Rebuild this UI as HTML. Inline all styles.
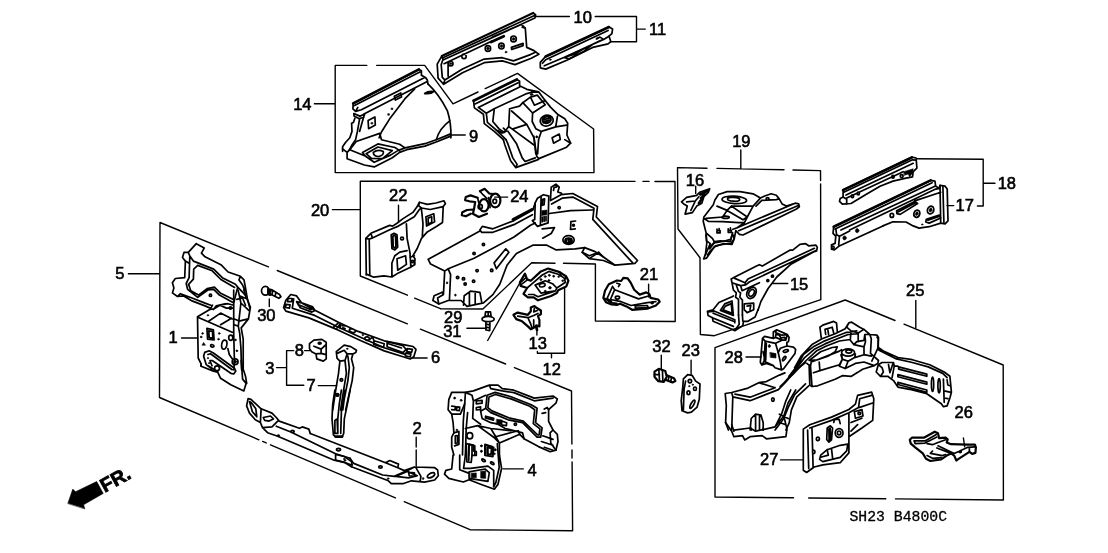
<!DOCTYPE html>
<html><head><meta charset="utf-8"><title>SH23 B4800C</title>
<style>
html,body{margin:0;padding:0;background:#fff}
svg{display:block;will-change:transform}
path{fill:none;stroke:#000;stroke-width:1.7;stroke-linecap:round;stroke-linejoin:round}
path.t{stroke-width:1.4}
path.b{stroke-width:2.7}
path.h{stroke-width:2.2}
path.f{fill:#000;stroke-width:0.6}
path.w{fill:#fff}
text{font-family:"Liberation Sans",sans-serif;font-size:16.5px;fill:#000;stroke:#000;stroke-width:0.6}
text.fr{font-weight:bold;font-size:19.5px;stroke-width:0.8}
text.m{font-family:"Liberation Mono",monospace;font-size:14px;stroke-width:0.3}
</style></head><body>
<svg width="1108" height="553" viewBox="0 0 1108 553">
<!-- 00_frames -->
<g><path class="t" d="M335.2 65.4L366.8 65.4M376.7 65.4L424.7 65.4M424.7 65.4L453 103.8M453 103.8L478 92M485.2 88.6L517.5 73.4M517.5 73.4L593.6 129L594 172.6L335.2 172.6L335.2 65.4M160 222.5L268.4 266.9M277.2 270.5L407.4 323.8M420.4 329.1L505.6 364M514.4 367.6L571.5 391M571.5 391L571.9 444M572 450L572 458M572.1 462L572.6 530.8M572.6 530.8L470 529.7M470 529.7L404.2 501.7M395.4 497.9L270.5 444.8M266.2 442.9L262.6 441.4M258.9 439.8L159.5 397.5M159.5 397.5L160 222.5M360.3 276L360.3 181.2L635 181.4M643 181.4L649 181.4M655 181.5L675 181.5L675.2 321.5L595.4 321L595.4 264L563.5 263.3M555 263.2L531.7 262.8L482.9 309L440.4 308.7M440.4 308.7L414.6 298.2M407.4 295.2L360.3 276M487.7 340.5L524.8 274M677.5 167.6L707 168.2M717 168.4L784 169.8M793 170L820.5 170.6M820.5 170.6L820.6 180.5M820.6 184L820.8 299.7L714.4 335.7L700.4 334.5L700 257.7L678 229L677.5 167.6M715 497L715 347.6L845.2 300M845.2 300L895 320.5M904 324.2L1003.2 365M1003.2 365L1003.4 500M1003.4 500L895.5 498.9M885.8 498.8L808.7 498M793.5 497.8L715 497M314.4 103.8L335.2 103.8M450.4 135L465.2 135M535.2 16.5L569.4 16.5M595.2 16.5L636.5 16.5L636.5 41.8L610.4 41.8M636.5 29.1L645.3 29.1M128.4 273.7L160 273.7M332.4 209.6L360.3 209.6M740.8 149.9L740.8 168.5M695.7 186.3L695.7 193.4M648.6 284.3L648.6 297M772.7 283.5L787.8 283.5M661.3 355.2L661.3 369M691.1 360.3L691.1 374.2M746 357L761.3 357M916.6 158.7L983.2 159.2L983.2 206L977.4 206M983.2 183.3L995 183.3M947 205.6L953.8 205.6M915.8 300.5L915.8 327.8M963.4 438L964.7 446.8M181.5 338L197.5 338M269.3 299L269.3 306.5M293.7 350.6L286.6 350.6L286.6 385.3L303.8 385.3M276.5 367.6L286.6 367.6M304.6 350.6L310 350.6M318.2 385.6L336.7 385.6M416.2 437.2L416.2 447M416.2 450L416.2 466.3M503 468.9L523.3 468.9M398.5 205.3L398.5 221.5M494.7 197.1L507.7 197.1M466.9 328.2L485.9 328.2M536.9 326L536.9 335M564.6 288L564.6 353.2L537.4 353.2L537.4 351.4M551.5 353.2L551.5 357.7M412.7 358L427.1 358"/></g>
<!-- 01a -->
<g><path d="M197.5 316.8L209.8 309.5L214.1 308.8L219.9 305.2L227.9 303.7L233.7 305.2M197.5 316.8L198.2 358L201.1 363.8L201.1 366.2M198.4 317.5L232.2 332.2M208.3 321.5L220.6 313.1L232.2 318.9M220.6 324.7L231.5 318.2M213.4 309.5L216.3 305.9L225 303.7M219.9 305.2L226.4 308.1L233.7 308.1M233.7 290L233.7 333.4L234.4 359.4L233.9 370M238 290L239.4 295.8L240.9 303L238.3 326.2L239.7 333.4L240.9 347.9L241.6 370M243.8 290L247 298.7L250.4 307.4L248.4 318.9L241.2 327.9L243.2 339.2L243.2 370M239.4 295.8L246.7 298.7M240.9 303L248.8 310.3M234.4 318.9L239.2 321.1M238.3 326.2L234.4 324.7M239.2 321.1L248.1 318.9M206.9 328.3L213.4 329.8L214.1 339.9L207.6 339.2ZM208.8 330.8L212.5 331.5L212.8 338.2L209.2 337.5Z"/><path class="f" d="M203.4 333.4C203.4 333.9 203 334.3 202.5 334.3C202.1 334.3 201.7 333.9 201.7 333.4C201.7 332.9 202.1 332.5 202.5 332.5C203 332.5 203.4 332.9 203.4 333.4Z"/><path class="f" d="M202 337C202 337.5 201.6 337.9 201.1 337.9C200.6 337.9 200.2 337.5 200.2 337C200.2 336.5 200.6 336.1 201.1 336.1C201.6 336.1 202 336.5 202 337Z"/><path class="f" d="M220.1 333.4C220.1 333.9 219.7 334.3 219.2 334.3C218.7 334.3 218.3 333.9 218.3 333.4C218.3 332.9 218.7 332.5 219.2 332.5C219.7 332.5 220.1 332.9 220.1 333.4Z"/><path class="f" d="M219.3 339.2C219.3 339.7 218.9 340.1 218.5 340.1C218 340.1 217.6 339.7 217.6 339.2C217.6 338.7 218 338.3 218.5 338.3C218.9 338.3 219.3 338.7 219.3 339.2Z"/><path class="f" d="M202.1 345L203.6 342.4L205.3 345Z"/><path d="M213.9 346.4C213.7 347 212.7 347.3 211.9 346.9C210.9 346.6 210.4 345.8 210.6 345.2C210.8 344.6 211.7 344.4 212.6 344.8C213.5 345.1 214.1 345.8 213.9 346.4ZM226.8 345.1C226.4 347.6 224.9 349.5 223.4 349.2C222 349 221.2 346.8 221.7 344.2C222.1 341.7 223.6 339.9 225.1 340.1C226.5 340.4 227.3 342.6 226.8 345.1ZM232.8 337.7C232.8 339.2 231.9 340.3 230.8 340.3C229.6 340.3 228.7 339.2 228.7 337.7C228.7 336.3 229.6 335.1 230.8 335.1C231.9 335.1 232.8 336.3 232.8 337.7Z"/><path class="f" d="M236.3 339.9C236.3 340.4 235.9 340.8 235.4 340.8C234.9 340.8 234.5 340.4 234.5 339.9C234.5 339.4 234.9 339 235.4 339C235.9 339 236.3 339.4 236.3 339.9Z"/><path class="f" d="M237.7 350.8C237.7 351.2 237.3 351.6 236.8 351.6C236.4 351.6 236 351.2 236 350.8C236 350.3 236.4 349.9 236.8 349.9C237.3 349.9 237.7 350.3 237.7 350.8Z"/><path class="f" d="M208.8 315.3C208.8 315.7 208.4 316 207.9 316C207.4 316 207 315.7 207 315.3C207 314.9 207.4 314.6 207.9 314.6C208.4 314.6 208.8 314.9 208.8 315.3Z"/><path d="M231.6 308.1C231.6 308.7 231.1 309.2 230.5 309.2C229.8 309.2 229.3 308.7 229.3 308.1C229.3 307.4 229.8 306.9 230.5 306.9C231.1 306.9 231.6 307.4 231.6 308.1Z"/></g>
<!-- 01b -->
<g><path d="M201.1 363.9L201.1 366.3L213.4 371.1L217.7 372.1L220.6 378.3L230.8 384.8L243.8 390.9L246.1 383.4L242.6 379.1L241.2 360.3M243.5 370.1L245.5 376.2L246.7 383.4M203.6 356.2L204.7 352.4L209.1 350.8L213.4 353L234.4 368.2L235.8 371.1L233.7 374L230.8 373.3L212.2 360.5L209.9 360.5L212 365.8M203.6 356.2L206.2 364.6L212 368.9M207.9 354.5L210.5 353.7L232.2 369.7M219.5 368.2C219.5 369.6 218.4 370.7 217 370.7C215.7 370.7 214.6 369.6 214.6 368.2C214.6 366.8 215.7 365.8 217 365.8C218.4 365.8 219.5 366.8 219.5 368.2ZM238 361.7C238 363.3 236.7 364.6 235.1 364.6C233.5 364.6 232.2 363.3 232.2 361.7C232.2 360.1 233.5 358.8 235.1 358.8C236.7 358.8 238 360.1 238 361.7Z"/><path class="f" d="M236.5 361.7C236.5 362.5 235.9 363.1 235.1 363.1C234.3 363.1 233.7 362.5 233.7 361.7C233.7 360.9 234.3 360.3 235.1 360.3C235.9 360.3 236.5 360.9 236.5 361.7Z"/><path class="f" d="M208.6 358.1C208.6 358.5 208.3 358.8 207.9 358.8C207.5 358.8 207.2 358.5 207.2 358.1C207.2 357.7 207.5 357.4 207.9 357.4C208.3 357.4 208.6 357.7 208.6 358.1Z"/><path class="f" d="M209.8 363.1C209.8 363.6 209.5 363.9 209.1 363.9C208.7 363.9 208.3 363.6 208.3 363.1C208.3 362.7 208.7 362.4 209.1 362.4C209.5 362.4 209.8 362.7 209.8 363.1Z"/><path d="M208.3 366L213.4 368.9L214.8 371.1M227.9 348.7L229.3 354.5L232.2 358.8"/><path class="f" d="M237.6 350.8C237.6 351.3 237.2 351.6 236.8 351.6C236.4 351.6 236.1 351.3 236.1 350.8C236.1 350.4 236.4 350.1 236.8 350.1C237.2 350.1 237.6 350.4 237.6 350.8Z"/></g>
<!-- 02b -->
<g><path d="M310.3 433.5L385.5 462.7L389.8 460.5L398.5 464.1L397.8 467.7L404.3 470.6L414.4 467L434.7 467.7L437.6 469.9L438.3 475.7L434.7 480L424.5 482.2L411.5 480.8L402.8 483.7L391.3 483.7L388.4 480.8L351.5 466.7M350 458.3L353.7 463.4L382.6 475L394.2 476.4L405.7 471.4L414.4 467M385.5 462.7L397.8 467.7M395.6 476.4L407.2 471.4L417.3 475.7L408.6 477.9ZM408.6 472.4L414.4 472.9L415.1 476.4L409.3 475.8ZM415.9 467.7L420.9 476.4L420.2 481.5M434.7 473.6C435.2 474.6 433.9 476.2 431.9 477.1C429.9 478 427.9 478 427.4 477C426.9 476 428.2 474.4 430.2 473.4C432.2 472.5 434.2 472.5 434.7 473.6Z"/><path class="f" d="M423.8 478.6C423.8 479.2 423.5 479.7 423.1 479.7C422.7 479.7 422.4 479.2 422.4 478.6C422.4 478 422.7 477.4 423.1 477.4C423.5 477.4 423.8 478 423.8 478.6Z"/><path d="M382.2 467C382.2 467.7 381.4 468.2 380.4 468.2C379.5 468.2 378.7 467.7 378.7 467C378.7 466.4 379.5 465.9 380.4 465.9C381.4 465.9 382.2 466.4 382.2 467Z"/><path class="f" d="M389 478.6C389 479.1 388.6 479.5 388.1 479.5C387.6 479.5 387.2 479.1 387.2 478.6C387.2 478.1 387.6 477.7 388.1 477.7C388.6 477.7 389 478.1 389 478.6Z"/><path class="f" d="M345.1 459.1C345.1 459.5 344.7 459.9 344.2 459.9C343.8 459.9 343.4 459.5 343.4 459.1C343.4 458.6 343.8 458.2 344.2 458.2C344.7 458.2 345.1 458.6 345.1 459.1Z"/></g>
<!-- 04a -->
<g><path d="M451.7 392.4L465.4 392.4L473.4 390.9L489.3 385.1L498 385.1L502.3 388.7L513.9 390.2L534.2 398.1L553 396L557.3 398.9L555.9 403.2L548.6 409.7L548.6 421.3L553 430L557.3 434.3L558 441.5L555.9 450.2L550.1 451.7L538.5 446.6L524 438.7L519.7 434.3L499.4 443L499.4 455M451.7 392.4L448.8 399.6L448.1 409.7L451.7 414.1L453.1 422.7L453.9 432.9L451.7 437.2L451.7 447.3L453.9 455M487.1 395.3L495.1 392.4L511 396.7L531.3 404.7L537.1 408.3L535.6 422.7L542.1 427.8L540.7 437.2L537.1 437.2L522.6 422.7L508.1 419.8L490.8 412.6L485.7 408.3ZM489 397L495.4 394.5L511 398.9L529.8 406.2L534.7 409.7L533.3 423.6L539.9 428.8L539.1 435L537.8 435L523.3 421L508.8 417.8L491.9 410.9L487.9 407.7ZM489.3 385.1L490.8 388.7L502.3 390.9L513.9 392.6L534.2 400.8L553 398.1M465.4 393.1L464.7 403.9L460.4 414.1L451.7 414.1"/><path class="f" d="M455.6 398.1C455.6 398.7 455.2 399.2 454.6 399.2C454 399.2 453.6 398.7 453.6 398.1C453.6 397.6 454 397.1 454.6 397.1C455.2 397.1 455.6 397.6 455.6 398.1Z"/><path class="f" d="M462.1 400.3C462.1 400.9 461.7 401.3 461.1 401.3C460.5 401.3 460.1 400.9 460.1 400.3C460.1 399.8 460.5 399.3 461.1 399.3C461.7 399.3 462.1 399.8 462.1 400.3Z"/><path d="M451.7 406.1L455.3 406.5L455 410L451.7 409.7M456.8 406.8L459.7 407.1L459.4 410.6L456.6 410.3ZM465.4 392.4L472 395.3L473.4 401L472.7 418.4L480.6 424.2M464.7 403.9L463.3 421.3L462.5 455M467.6 412.6L466.2 428.5L465.4 455M473.4 401L485.7 395.3M476.3 401L482.1 400.3L482.1 403.2L476.3 403.9ZM476.3 407.5L480.6 406.8L480.6 409.4L476.3 410ZM485.7 408.3L480.6 411.2L482.1 418.4L490.8 422.7L498 424.2L505.2 428.5L522.6 432.9L524 438.7"/><path class="f" d="M496.8 419.3L502.3 420.1L502 425.1L496.5 424.2Z"/><path d="M485.7 416.2L493.7 418.4L493.4 420.1L485.4 418ZM502.3 421.3L506.7 422.7L506.4 425.6L502.3 425.1M516.5 424.2C516.5 424.8 516 425.3 515.4 425.3C514.7 425.3 514.2 424.8 514.2 424.2C514.2 423.5 514.7 423 515.4 423C516 423 516.5 423.5 516.5 424.2ZM542.8 435.8L553 439.4M541.4 441.5L553 445.2M544.3 447.3L553 450.2M544.3 409L547.2 407.5L548.6 409.7M542.1 413.3L545.7 412.6M553 430L550.1 432.9L550.8 443L555.9 450.2M465.4 428.5L477.7 425.6L490.8 428.5L499.4 443M477.7 425.6L493.7 437.2L499.4 443M493.7 437.2L518.2 430.7L519.7 434.3M490.8 428.5L511 430.7M472.7 435.8C472.7 437.5 471.4 438.9 469.8 438.9C468.2 438.9 466.9 437.5 466.9 435.8C466.9 434 468.2 432.6 469.8 432.6C471.4 432.6 472.7 434 472.7 435.8ZM469.1 444.4L474.8 445.9L474.8 455M469.1 444.4L468.8 455M472 446.6L472 455M485 444.4L492.2 446.6L492.2 455M485 444.4L485 455M487.9 447.3L487.9 455"/><path class="f" d="M482.2 445.9C482.2 446.4 481.8 446.8 481.4 446.8C480.9 446.8 480.5 446.4 480.5 445.9C480.5 445.4 480.9 445 481.4 445C481.8 445 482.2 445.4 482.2 445.9Z"/><path class="f" d="M482.2 450.9C482.2 451.4 481.8 451.8 481.4 451.8C480.9 451.8 480.5 451.4 480.5 450.9C480.5 450.5 480.9 450.1 481.4 450.1C481.8 450.1 482.2 450.5 482.2 450.9Z"/><path class="f" d="M496 450.2C496 450.7 495.6 451.1 495.1 451.1C494.6 451.1 494.2 450.7 494.2 450.2C494.2 449.7 494.6 449.4 495.1 449.4C495.6 449.4 496 449.7 496 450.2Z"/><path d="M453.9 432.9L458.9 431.4L458.9 444.4L454.6 445.9"/><path class="f" d="M457.6 430C457.6 430.5 457.2 430.8 456.8 430.8C456.3 430.8 455.9 430.5 455.9 430C455.9 429.5 456.3 429.1 456.8 429.1C457.2 429.1 457.6 429.5 457.6 430Z"/><path d="M455.3 435.8L457.5 435.5L457.5 443L455.3 443.3Z"/></g>
<!-- 04b -->
<g><path d="M499.4 455L501.6 468.3L498 484.2L494.4 489.2L480.6 484.2L469.1 479.8L463.3 482L448.8 478.4L444.5 474.1L445.9 470.4L451.7 469L453.1 455M497.3 443.7L499.2 467.5L495.8 482.7L493.7 486.8M459.7 455L459.7 469.7L467.9 472.9M465.4 455L463.6 468.3L470.5 468.3L487.9 466.1L493.7 470.4L493.7 486.8M469.1 471.9L485 469L489.3 472.6L487.9 481.3L469.1 478.4Z"/><path class="f" d="M471.2 473.3L476.3 472.9L476.3 477.7L471.2 477.7Z"/><path class="f" d="M480.9 471.2L485.7 470.9L485.7 478.4L480.9 478.1Z"/><path d="M485 445.1L493.7 447.3L492.9 456.7L485 455.3ZM487.1 447.3L491.5 448.3L491 454.5L487.1 453.8Z"/><path class="f" d="M482.2 445.8C482.2 446.3 481.8 446.7 481.4 446.7C480.9 446.7 480.5 446.3 480.5 445.8C480.5 445.4 480.9 445 481.4 445C481.8 445 482.2 445.4 482.2 445.8Z"/><path class="f" d="M482.2 451.6C482.2 452.1 481.8 452.5 481.4 452.5C480.9 452.5 480.5 452.1 480.5 451.6C480.5 451.2 480.9 450.8 481.4 450.8C481.8 450.8 482.2 451.2 482.2 451.6Z"/><path class="f" d="M496 449.5C496 449.9 495.6 450.3 495.1 450.3C494.6 450.3 494.2 449.9 494.2 449.5C494.2 449 494.6 448.6 495.1 448.6C495.6 448.6 496 449 496 449.5Z"/><path class="f" d="M495.2 453.8C495.2 454.3 494.9 454.7 494.4 454.7C493.9 454.7 493.5 454.3 493.5 453.8C493.5 453.3 493.9 452.9 494.4 452.9C494.9 452.9 495.2 453.3 495.2 453.8Z"/><path d="M485.3 461.3C485 461.8 484 461.7 483 461.2C482.1 460.6 481.5 459.8 481.8 459.3C482.1 458.8 483.1 458.9 484 459.4C485 460 485.6 460.9 485.3 461.3ZM494 464.2C493.7 464.7 492.7 464.6 491.7 464.1C490.7 463.5 490.2 462.7 490.5 462.2C490.7 461.7 491.7 461.8 492.7 462.3C493.7 462.9 494.2 463.7 494 464.2ZM466.2 443.7L473.4 445.1L473.4 450.9L476.3 451.6L476.3 455.3L472 455.3L471.2 462.5L466.9 461.8ZM468.8 445.8L468.8 460.3"/></g>
<!-- 05a -->
<g><path d="M196.3 243.7L204.2 248.1L201.4 253.1L205 256.8L220.9 264.7L228.1 272L240.4 276.3L244 279.9L245.5 287.9L247.2 298L249.8 308.1M196.3 243.7L188.3 252.4L184 252.4L182.5 257.5L185.4 261.1L184.7 277.7L175.3 278.5L172.4 282.8L173.9 287.9L172.4 292.9L177.5 296.5L183.3 295.8L192 300.9L205 305.9L210.8 308.4L212.5 305.2M189.8 256L193.4 261.1L213.7 269.1L222.3 277.7L235.4 284.2L237.7 287.1L233.9 302.3M189.8 256L189.1 277.7L186.2 283.5L187.6 289.3L197.7 297.3L207.9 290L213.7 289.3L219.4 295.1L232.5 302.3M197.7 265.4L212.2 270.8L220.9 279.5L234.6 287.4M197.7 265.4L193.7 269.1L193.4 279.2L188.6 284.4L190.8 290.8L198.5 295.1L207.1 288.6L214.4 287.1L220.2 292.9L233.9 299.7M188.3 252.4L189.8 256M185.4 261.1L189.1 263.3M177.5 296.5L180.4 293.7L192 298L205 303.1L210.8 305.2M211.6 295.4C211.6 296 211.1 296.5 210.5 296.5C209.8 296.5 209.3 296 209.3 295.4C209.3 294.8 209.8 294.2 210.5 294.2C211.1 294.2 211.6 294.8 211.6 295.4ZM240.4 276.3L239 279.9L242.6 285L244.8 290.8M237.7 287.1L244 293.7L247.2 298M236.8 299.4L242.6 298L245.5 305.2M269.3 290.8C269.3 293.2 267.6 295.1 265.4 295.1C263.3 295.1 261.5 293.2 261.5 290.8C261.5 288.4 263.3 286.4 265.4 286.4C267.6 286.4 269.3 288.4 269.3 290.8ZM272.4 292.2C272.4 293.8 271.3 295.1 270.1 295.1C268.8 295.1 267.8 293.8 267.8 292.2C267.8 290.6 268.8 289.3 270.1 289.3C271.3 289.3 272.4 290.6 272.4 292.2ZM272.2 290L279.5 294.4L280.9 296.8L278.8 298.3L272.2 295.1M267.9 287.9L267.9 293.7M270.1 289.3L270.1 295.1M275.9 292.2L275.1 296.5"/></g>
<!-- 06 -->
<g><path d="M290.8 294.5L296.6 295.9L301.7 303.1L315.4 310.4L337.9 322L358.1 331.4L384.2 340.8L405.9 345.1L413.1 346.5L416 349.4L413.8 356.7L410.2 359L403 356.7L384.2 350.9L361 340.8L337.9 329.9L308.9 317.9L285.8 311.1L283.6 307.5L285.8 300.3ZM293.7 298.8L292.3 308.2L314.7 315.4L337.9 327L361 337.6L384.2 347.7L404.4 354.1M296.6 301.7L300.3 307.8L311.8 312.1L315 310.4L312.7 306.9L302.4 303.1ZM298.1 304.6L301.7 306L311.1 309.7M288 298.5L292.3 298.5L291.6 301.7L287.5 301.7ZM286.1 304.3L290.1 304.9L289.4 308.2L285.5 307.5ZM333.8 327L337.9 323.4M337.1 327.7L340.8 323.4L340 328.5M342.2 325.6L345.8 326M342.9 327.7L345.1 328.5M355.4 331.5C355.2 332.4 353.6 332.8 351.9 332.3C350.2 331.8 349 330.7 349.3 329.8C349.5 328.9 351.1 328.5 352.8 329C354.5 329.4 355.7 330.5 355.4 331.5Z"/><path class="f" d="M363.6 335C363.6 335.4 363.2 335.7 362.7 335.7C362.3 335.7 361.9 335.4 361.9 335C361.9 334.6 362.3 334.2 362.7 334.2C363.2 334.2 363.6 334.6 363.6 335Z"/><path d="M369.3 339.2C369.1 340.1 367.9 340.6 366.6 340.3C365.4 339.9 364.6 338.9 364.8 338C365.1 337.1 366.3 336.6 367.5 336.9C368.8 337.2 369.6 338.3 369.3 339.2ZM369.7 339.3L372.6 337.1L374 340.8M374 340.8L384.2 343.7L383.6 347.4L373.7 344.5ZM387.1 341.5L403 345.8L406.1 349.4L403 352.6L387.1 346.8ZM388.5 343.7L401.5 348M407.3 348.7L412.4 349.4L411.6 352.3L406.9 351.6ZM405.6 353.1L410.9 354.1L410.2 357L405.3 355.9Z"/></g>
<!-- 07b_02a -->
<g><path d="M334.9 390L332.7 404.5L332 418.9L333.4 434.8L335.6 437L342.1 437L343.7 433.4L344.3 418.9L347.9 401.6L350.1 390M341.4 390L339.2 404.5L337.8 418.9L337.8 433.4M345 390L341.4 411.7L340.7 433.4M334.9 420.4L337.1 418.9L337.8 433.4L334.9 433.4ZM338.5 395.1C338.5 395.7 338 396.2 337.3 396.2C336.7 396.2 336.2 395.7 336.2 395.1C336.2 394.4 336.7 393.9 337.3 393.9C338 393.9 338.5 394.4 338.5 395.1Z"/><path class="b" d="M335.6 436.6L342.1 436.6"/><path d="M248.1 398.7L251 399.4L261.1 408.8L272 413.1L276.3 417.5L279.2 421.1L299.4 428.3L302.3 426.9L308.8 429.1L310.3 433.4M248.1 398.7L246.6 405.9L249.5 413.1L255.3 419.7L260.4 422.5L262.5 427.6L267.6 432.7L277.7 436.3L334.2 460.2L344.3 462.3L351.5 466.7M261.1 408.8L260.4 422.5M276.3 426.2L290.8 432L335.6 453.7L350.1 458.3M249.5 401.6L252.4 411.7L256.8 416.8L255.8 408.8L251.4 402.7ZM263.3 417.5L270.5 416L273.4 418.9L269.1 421.1L264.7 420.4ZM272 426.9L277.7 421.1M262.5 427.6L272 426.9M294.2 431.5C294.2 432.2 293.5 432.7 292.5 432.7C291.5 432.7 290.8 432.2 290.8 431.5C290.8 430.9 291.5 430.4 292.5 430.4C293.5 430.4 294.2 430.9 294.2 431.5Z"/><path class="f" d="M279.6 435.6C279.6 436.2 279.1 436.7 278.5 436.7C277.8 436.7 277.3 436.2 277.3 435.6C277.3 434.9 277.8 434.4 278.5 434.4C279.1 434.4 279.6 434.9 279.6 435.6Z"/><path d="M340.5 449.6C340.5 450.3 339.6 450.9 338.5 450.9C337.4 450.9 336.5 450.3 336.5 449.6C336.5 448.9 337.4 448.3 338.5 448.3C339.6 448.3 340.5 448.9 340.5 449.6ZM335.6 454.4L344.3 456.5L351.5 461.6L352.2 465.2L344.3 462.3L335.6 460.2Z"/><path class="f" d="M345.9 460.5C345.9 460.9 345.5 461.3 345 461.3C344.5 461.3 344.1 460.9 344.1 460.5C344.1 460 344.5 459.6 345 459.6C345.5 459.6 345.9 460 345.9 460.5Z"/></g>
<!-- 08_07a -->
<g><path d="M309.5 343.7L313.9 340.1L321.8 339.4L326.2 342.3L326.2 358.9L323.3 361.1L316.8 358.9L316 353.9L311.7 351.7L309.5 348.8ZM313.9 346.2L321.1 349.1L326.2 344.5M321.1 349.1L321.1 353.4L316 353.9M321.1 353.4L325 354.3M321.1 343.3C321.1 343.8 320.5 344.2 319.7 344.2C318.9 344.2 318.2 343.8 318.2 343.3C318.2 342.8 318.9 342.4 319.7 342.4C320.5 342.4 321.1 342.8 321.1 343.3ZM336.3 351.7L344.2 345.2L350.8 346.6L356.5 350.3L355.8 352.4L352.9 353.9L351.5 358.9L353.7 367.6L352.2 380.6L347.9 399.4L345.7 410M336.3 351.7L337 358.2L339.9 361.1L338.5 373.4L335.6 390.8L332.7 410M339.9 361.1L345 360.4L347.1 353.9L344.2 350.3L337.7 353.1M345 360.4L346.4 373.4L343.5 390.8L340.6 410M347.9 356L349.3 367.6L347.9 380.6L344.2 399.4L342.8 410M347.1 353.9L352.9 353.9M342.7 379.9C342.7 380.6 342.1 381.2 341.4 381.2C340.6 381.2 340.1 380.6 340.1 379.9C340.1 379.2 340.6 378.6 341.4 378.6C342.1 378.6 342.7 379.2 342.7 379.9ZM338.8 394.8C338.8 395.5 338.2 396.1 337.5 396.1C336.7 396.1 336.1 395.5 336.1 394.8C336.1 394.1 336.7 393.5 337.5 393.5C338.2 393.5 338.8 394.1 338.8 394.8Z"/><path class="f" d="M348 348.8C348 349.2 347.6 349.5 347.1 349.5C346.7 349.5 346.3 349.2 346.3 348.8C346.3 348.4 346.7 348.1 347.1 348.1C347.6 348.1 348 348.4 348 348.8Z"/></g>
<!-- 09a -->
<g><path d="M353.2 103.4L418.9 69.4L421.4 70.8L421.4 75.2L425.8 77.7L427.4 80.3L427.9 83.9M354.5 105.6L419.8 71.9M353.2 103.4L352.9 108.8L355.6 111.4L361.4 109.7L424.7 77.4M363.5 114.2L426.8 81.7M355.6 111.4L357.8 107.4M353.8 113.5L359.9 116.1L364.6 114.2L363.5 117.5L358.8 118.6L354.1 116.1Z"/><path class="b" d="M353.2 103.4L418.9 69.4"/><path d="M394.3 96.2L400.8 92.9L401.5 97.1L395.4 100.1ZM414.7 88.9L404.8 98.9L390.3 117.9L381.3 132.3L379.1 137.8"/><path class="f" d="M391.4 108.1L392.8 108.1L392.8 109.5L391.4 109.5Z"/><path class="f" d="M388 113.7L389.4 113.7L389.4 115.2L388 115.2Z"/><path d="M368.1 120.6L374.9 117L375.3 125.1L368.6 128.7Z"/><path class="f" d="M371.3 122.6L372.8 122.6L372.8 124L371.3 124Z"/><path d="M354.9 118.2L353.4 122.4L351.6 123.3L352 131.4L349.8 137.8L345.5 142.5L342.6 146.8L342.6 151.3M359.6 118.8L357.4 131.4L355.6 139.6L352 145L349.1 150.4M363.5 117.5L361.4 125.1L359.6 131.4M427.9 83.9Q439.1 94.4 447.3 110.6Q451.4 123.3 450.9 137.8M424.7 93.5Q428.3 90.7 433.7 91.6Q431 94.4 424.7 93.5M436.4 139.6Q439.1 128.7 450 120.6"/></g>
<!-- 09b -->
<g><path d="M342.6 148.8L347.1 152.4L347.1 158.7L364.3 165L374.2 166.9L392.3 157.8L399.6 152.4L406.8 149.7L424.9 146.1L437.5 141.5L450.6 136.1M349.8 149.7L365.2 156L374.2 162.3L390.5 155.1L397.8 150.6L405 147.9L424.9 143.7L437.5 139.2L450.6 133.9M356.2 141.5L379.7 133.4L381.5 139.7L399.6 144.2L405 147.9M349.8 149.7L356.2 141.5M362.5 152.4L377.9 143.9L395 147.5L399.6 150.6M366.1 153.7L377.9 147L392.3 150.6L382.4 158.7L371.5 158.4ZM373.3 152.4Q377.9 148.8 383.3 151.5Q384.2 155.1 378.8 156.5Q373.3 156 373.3 152.4M362.5 152.4L365.2 156M347.1 152.4L349.8 149.7"/></g>
<!-- 10 -->
<g><path class="h" d="M441.8 56.1L533.1 13"/><path d="M533.1 13L535.6 14.8L534.9 18.1L443 60M442.3 58L534.5 15.4M441.8 56.1L437.2 64.2L438.1 78.1L443.6 84.3L462.5 72.7L484.2 62.7L502.3 60.9L515 64.6L531.3 58.2L538.9 54.2L534 50.6L526.7 47.4L525.3 28.2L522.2 27.1M443 59.3L441.2 64.7L442.3 77.4L444.8 79.9L462.5 69.1L484.2 59.1L502.3 57.7L513.5 60.9L530.4 54.6L534.9 52.4M444.8 79.9L443.6 84.3M444.1 63.7L491.5 41.2M492.4 37.1L521.3 24.4L525.3 28.2M448.1 62.4L448.1 75.9M453 63.7C453 64.8 452 65.8 450.8 65.8C449.6 65.8 448.6 64.8 448.6 63.7C448.6 62.5 449.6 61.5 450.8 61.5C452 61.5 453 62.5 453 63.7ZM466.2 56.4C466.2 57.6 465.2 58.6 464 58.6C462.8 58.6 461.8 57.6 461.8 56.4C461.8 55.2 462.8 54.2 464 54.2C465.2 54.2 466.2 55.2 466.2 56.4ZM490.6 48.5C490.6 50.1 489.4 51.4 487.9 51.4C486.4 51.4 485.2 50.1 485.2 48.5C485.2 46.9 486.4 45.6 487.9 45.6C489.4 45.6 490.6 46.9 490.6 48.5ZM504.1 46.1C504.1 47.7 502.9 49 501.4 49C499.9 49 498.7 47.7 498.7 46.1C498.7 44.5 499.9 43.2 501.4 43.2C502.9 43.2 504.1 44.5 504.1 46.1ZM516.3 38.9C516.3 40.5 515 41.8 513.5 41.8C512 41.8 510.8 40.5 510.8 38.9C510.8 37.3 512 36 513.5 36C515 36 516.3 37.3 516.3 38.9Z"/><path class="f" d="M489.1 48.5C489.1 49.3 488.6 49.9 487.9 49.9C487.2 49.9 486.6 49.3 486.6 48.5C486.6 47.7 487.2 47 487.9 47C488.6 47 489.1 47.7 489.1 48.5Z"/><path class="f" d="M502.7 46.1C502.7 46.9 502.1 47.6 501.4 47.6C500.7 47.6 500.2 46.9 500.2 46.1C500.2 45.3 500.7 44.7 501.4 44.7C502.1 44.7 502.7 45.3 502.7 46.1Z"/><path class="f" d="M514.8 38.9C514.8 39.7 514.2 40.3 513.5 40.3C512.8 40.3 512.3 39.7 512.3 38.9C512.3 38.1 512.8 37.4 513.5 37.4C514.2 37.4 514.8 38.1 514.8 38.9Z"/><path class="f" d="M451.7 63.7C451.7 64.2 451.3 64.6 450.8 64.6C450.3 64.6 449.9 64.2 449.9 63.7C449.9 63.1 450.3 62.7 450.8 62.7C451.3 62.7 451.7 63.1 451.7 63.7Z"/><path class="b" d="M491.1 42L503.8 36.2"/><path d="M511.4 47.4L523.1 43.4L523.1 45.6L511.7 49.5Z"/><path class="f" d="M506.9 52.1C506.9 52.6 506.5 53 505.9 53C505.4 53 505 52.6 505 52.1C505 51.6 505.4 51.2 505.9 51.2C506.5 51.2 506.9 51.6 506.9 52.1Z"/></g>
<!-- 11 -->
<g><path d="M540.3 62.4L545.7 56.4L609 27.1L612.6 28.9L611.9 33.6L609 36.2L610.8 41.6L608.1 43.8L592.7 47.4L567.4 60L545.7 69.1L540.3 67.8Z"/><path class="b" d="M545.7 56.4L609 27.1"/><path d="M542.5 63.3L545.7 59.7L608.1 30.4M544.3 65.8L563.8 57.5L587.3 46.7L603.6 39.4L609 36.2M563.8 57.5L574.7 54.2L583.7 48.8L587.3 46.7M563.8 57.5L569.2 58.8L583.7 51.5L592.7 44.3L600 40.7M596.4 38.9L600 37.1L603.6 39.4"/><path class="f" d="M551.2 59.7C551.2 60.1 550.8 60.4 550.3 60.4C549.7 60.4 549.3 60.1 549.3 59.7C549.3 59.3 549.7 59 550.3 59C550.8 59 551.2 59.3 551.2 59.7Z"/><path class="f" d="M598.2 38.3C598.2 38.7 597.8 39.1 597.3 39.1C596.8 39.1 596.4 38.7 596.4 38.3C596.4 37.9 596.8 37.6 597.3 37.6C597.8 37.6 598.2 37.9 598.2 38.3Z"/></g>
<!-- 12_13 -->
<g><path class="h" d="M525 273.6L527.1 279.4L530.8 280.8L540.9 271.4L548.1 268.5L559.7 272.1L566.2 276.5L568.4 280.8L566.2 286.6L558.2 290.2L556.8 293.1L551 296L538 300.3L533.7 297.4L527.9 297.4L523.5 293.8L527.1 288L520.6 285.9L519.9 282.3Z"/><path d="M527.1 288L532.2 283.7L542.3 275L548.8 271.4L558.2 274.3L564 277.9L565.5 282.3L556.8 288L555.4 290.9L538 296.7L533.7 294.5L528.6 294.5M535.1 285.1L545.2 280.8L552.5 283.7L556.8 288M535.1 285.1L540.9 293.1L555.4 290.9M545.1 284.4C545.4 285.3 544.3 286.4 542.8 286.8C541.2 287.2 539.8 286.8 539.5 285.9C539.3 285 540.3 283.9 541.9 283.5C543.4 283 544.9 283.5 545.1 284.4Z"/><path class="f" d="M546.2 276.5C546.2 277 545.8 277.5 545.2 277.5C544.7 277.5 544.2 277 544.2 276.5C544.2 275.9 544.7 275.5 545.2 275.5C545.8 275.5 546.2 275.9 546.2 276.5Z"/><path class="f" d="M550.3 275.3C550.3 275.9 549.8 276.3 549.3 276.3C548.7 276.3 548.3 275.9 548.3 275.3C548.3 274.7 548.7 274.3 549.3 274.3C549.8 274.3 550.3 274.7 550.3 275.3Z"/><path class="f" d="M554.6 276.2C554.6 276.7 554.2 277.2 553.6 277.2C553.1 277.2 552.6 276.7 552.6 276.2C552.6 275.6 553.1 275.2 553.6 275.2C554.2 275.2 554.6 275.6 554.6 276.2Z"/><path class="f" d="M541.9 279.6C541.9 280.2 541.5 280.7 540.9 280.7C540.3 280.7 539.9 280.2 539.9 279.6C539.9 279.1 540.3 278.6 540.9 278.6C541.5 278.6 541.9 279.1 541.9 279.6Z"/><path class="f" d="M549.9 280.5C549.9 281.1 549.4 281.5 548.8 281.5C548.3 281.5 547.8 281.1 547.8 280.5C547.8 280 548.3 279.5 548.8 279.5C549.4 279.5 549.9 280 549.9 280.5Z"/><path class="f" d="M551.2 287.8C551.2 288.5 550.6 289.1 549.9 289.1C549.1 289.1 548.6 288.5 548.6 287.8C548.6 287 549.1 286.4 549.9 286.4C550.6 286.4 551.2 287 551.2 287.8Z"/><path class="f" d="M546.2 291.2C546.2 291.8 545.8 292.2 545.2 292.2C544.7 292.2 544.2 291.8 544.2 291.2C544.2 290.7 544.7 290.2 545.2 290.2C545.8 290.2 546.2 290.7 546.2 291.2Z"/><path class="f" d="M559.4 276.8C559.4 277.2 559 277.6 558.5 277.6C558.1 277.6 557.7 277.2 557.7 276.8C557.7 276.3 558.1 275.9 558.5 275.9C559 275.9 559.4 276.3 559.4 276.8Z"/><path class="f" d="M563.5 280.8C563.5 281.3 563.1 281.7 562.6 281.7C562.1 281.7 561.7 281.3 561.7 280.8C561.7 280.3 562.1 279.9 562.6 279.9C563.1 279.9 563.5 280.3 563.5 280.8Z"/><path d="M520.6 282.3L525.7 277.9M521.4 284.4L527.1 280.1M559.7 272.1L561.1 275.7M566.2 276.5L564.8 279.4"/><path class="h" d="M513.4 314.8L517.7 312.6L527.9 314.8L530.8 311.2L530.8 307.6L534.4 306.1L537.3 308.3L540.9 310.5L540.9 314.1L538 316.2L539.4 319.9L539.4 326.4L537.3 325.7L533.7 327.8L530.8 329.3L527.9 326.4L522.1 321.3L516.3 319.1Z"/><path d="M517.7 316.2L527.9 317.7L533.7 315.5L538 313.4M527.9 317.7L530.8 324.2L532.2 328.5M533.7 319.9L533.7 327.1M534.4 308.3L533.7 311.9L537.3 310.5"/><path class="b" d="M536.1 325.7L537 330"/><path d="M485.6 311.9L490.5 311.9L491.1 316.2L485 316.2ZM494.2 319.1C494.2 320.6 491.4 321.7 488.1 321.7C484.7 321.7 482 320.6 482 319.1C482 317.7 484.7 316.5 488.1 316.5C491.4 316.5 494.2 317.7 494.2 319.1ZM485.9 321.3L485.9 330L489.7 330.7L490 321.3M488.2 312.6L488.2 315.8M485.9 324.2L489.8 324.9M485.9 327.1L489.8 327.8"/></g>
<!-- 14b -->
<g><path class="b" d="M473.5 100.7L516.9 79.5"/><path d="M516.9 79.5L519.6 81.3L519.6 85.7M475.6 103.8L518.1 82.8M478.3 107.4L519.6 87.1M473.5 100.7L474.4 107.9L483.4 114.2L484.3 123.7L494.2 131.4L503.3 139.6M478.3 107.4L486.3 113.2L487.4 122.4L496.4 130.2L506 139.6M486.3 113.2L494.2 108.8L526.8 93.6L531.3 92.2L538.6 91.8M519.6 85.7L526.8 89.3L538.6 91.8L544 98.9L550.7 107.4L557.5 114.2L564.8 118.8L567.7 123.3L566.9 135L570.6 143.2L566.6 147.2L541.3 157.6L538.9 158.6M522.8 102.7L530.4 97.1L537.3 95.1L545.2 104.8L532.6 113ZM530.4 97.1L534.4 105.2L544.5 100.9"/><path class="f" d="M532.9 94.4C532.9 95 532.3 95.4 531.5 95.4C530.7 95.4 530.1 95 530.1 94.4C530.1 93.8 530.7 93.3 531.5 93.3C532.3 93.3 532.9 93.8 532.9 94.4Z"/><path d="M494.2 109.7L492.8 121.5L499.7 129.6L504.2 132.3M509.6 108.8L519.6 106.1L522.8 102.7M509.6 108.8L508.7 126.5L512.3 129.1L526.8 124.4L511.6 111M526.8 124.4L534 137.8L535.8 154M504.2 132.3L508.7 126.5M512.3 129.1L534 145M553 118.9C553.8 121.8 551.6 124.9 548.1 125.8C544.6 126.7 541.2 125.2 540.4 122.3C539.6 119.4 541.8 116.3 545.3 115.3C548.8 114.4 552.2 116 553 118.9ZM550.9 118.9C551.4 120.7 549.9 122.6 547.5 123.2C545.2 123.8 543 122.9 542.5 121.2C542 119.4 543.5 117.5 545.8 116.9C548.2 116.3 550.4 117.2 550.9 118.9ZM542.7 119.7L550.7 118.2M542.7 121.5L550.7 120M543.4 122.9L549.9 121.8M532.6 113L532.2 121.5L535.8 128.7L541.3 131.4L555.7 126.9L557.5 116.1M541.3 131.4L538.6 139.6L537.6 154M552.1 137.8L559.3 134.1L560.3 139.6L553.6 143.2ZM555.7 126.9L566.6 125.1M564.8 139.6L570.6 143.2"/><path class="f" d="M537.8 136.9C537.8 137.5 537.3 137.9 536.7 137.9C536.1 137.9 535.7 137.5 535.7 136.9C535.7 136.3 536.1 135.8 536.7 135.8C537.3 135.8 537.8 136.3 537.8 136.9Z"/><path d="M496.4 130.2L501.5 132.3L504.2 132.3"/></g>
<!-- 14c -->
<g><path d="M503.3 139.6L504.8 144.8L510.6 160.8L515.7 167.6L538.1 159.6L538.8 158.6M506 139.6L507.7 143.4L512.8 157.9L517.1 164.4L515.7 167.6M507.7 131.1L516.4 143.4L522.2 157.9L525.1 161.5L535.2 157.9M503.4 128.2L506.3 131.1L502 133L498.3 131.1M533.8 136.2L536.7 156.4L538.8 158.6"/></g>
<!-- 15a -->
<g><path d="M705.9 235L706.6 240.8L710.3 243.7L704.5 256.7L703.7 258.9L706.6 258.1L714.6 246.6L723.3 243.7L732 244.4L734.1 239.3L733.4 235M714.6 241.5L720.4 240.8L730.5 241.5L732 235M708.8 248L714.6 242.2M731.2 279.1L734.8 277L756.5 266.1L759.4 264.7L762.3 266.1L789.8 250.2L792.7 250.2L799.9 244.4L805.7 243.7L808.6 245.8L815.9 245.1L817.3 247.3L816.6 250.9L814.4 251.6M734.8 278.4L745 282.7L747.9 279.1L814.4 248.3M745 282.7L745.7 284.9L749.3 282L815.9 250.6M731.2 279.1L732 282.7L740.6 285.6L745.7 284.9M814.4 251.6L791.3 263.9L776.8 277L768.1 288.5L760.9 301.5L758 310.2M740.6 285.6L742.1 290.7L759.4 282.7M732 282.7L733.4 290L736.3 292.9L735.6 297.2L738.5 299.4L738.5 315M736.3 284.9L738.5 291.4L740.6 292.9L739.9 297.2L742.4 300.1L742.4 315M755.2 295C753.6 297.9 750.5 299.3 748.4 298.1C746.4 296.9 746 293.6 747.7 290.7C749.4 287.8 752.5 286.4 754.5 287.6C756.6 288.8 756.9 292.1 755.2 295ZM753.6 294.1C752.6 295.9 750.8 296.8 749.6 296.1C748.4 295.4 748.3 293.4 749.4 291.6C750.4 289.8 752.2 288.9 753.4 289.6C754.5 290.3 754.7 292.3 753.6 294.1ZM768.8 280.6C768.8 281.1 768.4 281.6 767.8 281.6C767.3 281.6 766.8 281.1 766.8 280.6C766.8 280 767.3 279.6 767.8 279.6C768.4 279.6 768.8 280 768.8 280.6ZM773.5 276.2C773.5 276.8 773 277.2 772.5 277.2C771.9 277.2 771.4 276.8 771.4 276.2C771.4 275.7 771.9 275.2 772.5 275.2C773 275.2 773.5 275.7 773.5 276.2Z"/></g>
<!-- 15b -->
<g><path d="M758 309.7L755.1 317L747.9 321.3L743.5 321.3L742.8 325.6L734.8 330.7L732 329.2L713.1 321.3L712.4 317.7L708.1 315.5L707.4 311.2L713.1 309.7L718.9 302.5L732 296.7L733.4 296M738.5 314.8L739.2 324.2L734.8 330.7M742.4 314.8L742.8 321.3M724.7 303.9L732 301L733.4 315.5L720.4 310.4ZM725.4 306.1L731.2 303.6L732.2 313.3L723 309.7ZM708.1 311.9L714.6 311.2L734.8 319.8L734.8 322.7M713.1 313.3L733.4 321.3M712.4 317.7L733.4 326.4M744.2 303.9L753.7 303.2L753.7 309.7L747.1 312.6L744.2 309.7ZM747.1 306.1L750.8 305.4L750 309.7"/></g>
<!-- 16_19 -->
<g><path d="M681.5 201.8L686.6 197.4L696.7 195.3L699.6 192.4L709.7 188.7L708.3 192.4L703.9 196.7L701.8 203.2L696.7 206.1L692.4 212.6L685.1 214.1L687.3 206.1L683.7 203.9ZM686.6 201.8L695.3 201L698.9 196.7M695.3 201L690.9 210.4"/><path class="b" d="M700.3 194.5L707.5 190.9M701 198.1L704.7 194.5M698.9 203.2L701.8 198.9"/><path d="M714.8 200.3L718.4 194.5L727.1 191.6L740.1 191.6L753.1 193.8L760.4 198.1L764.7 196L771.2 193.8L776.3 195.3L779.2 198.9L782.1 203.9L786.4 206.1L795.1 203.2L798.7 203.9L799.4 206.8L796.5 209L743 235L739.4 234.3L735.8 230.7M737.2 227.8L795.1 203.2M738.7 230.7L797.7 205.8M714.8 200.3L713.3 204.7L703.9 217L703.2 221.3L706.1 232.9L706.8 243L705.4 255M746.6 200.5C746.5 202.6 740.9 204 734.1 203.6C727.3 203.3 721.9 201.3 722 199.2C722.1 197.2 727.7 195.8 734.5 196.1C741.3 196.5 746.7 198.5 746.6 200.5ZM739.7 199.6C739.6 200.7 736.8 201.4 733.5 201.2C730.1 201 727.5 200 727.5 199C727.6 197.9 730.3 197.2 733.7 197.4C737 197.6 739.7 198.6 739.7 199.6ZM717 206.1L727.1 210.4L731.4 206.1L753.1 206.1L760.4 198.1M756 206.1L761.8 200.3L776.3 199.6L779.2 198.9M769 198.9C769 199.5 768.4 200 767.6 200C766.8 200 766.1 199.5 766.1 198.9C766.1 198.2 766.8 197.7 767.6 197.7C768.4 197.7 769 198.2 769 198.9ZM727.1 210.4L722.7 217L706.1 218.4M731.4 206.1L747.3 217L753.1 206.1M727.1 210.4L743 219.8L747.3 217M747.3 217L744.4 222.7L737.2 227.8M703.9 218.4L708.3 221.3L722.7 221.6L738.7 222.7L744.4 222.7M729.2 217.2C729.2 217.9 727.6 218.4 725.6 218.4C723.6 218.4 722 217.9 722 217.2C722 216.6 723.6 216.1 725.6 216.1C727.6 216.1 729.2 216.6 729.2 217.2ZM717 229.2L717 232.9L720.1 232.9L720.1 230.7L718.4 230.7M719.1 228.5L719.1 230.7M728.2 228.8L728.2 232.3L731.4 232.3L731.4 230.3L729.7 230.3M730.4 227.9L730.4 230.3M735.8 230.7L734.3 238.7L731.4 243L722.7 244.4L715.5 245.9L709.7 251.7L707.5 255M732.6 232.9L730.7 239.4L722.7 241.5L714.1 243L709.7 248.8M732.9 229.2L737.2 227.8M706.1 232.9L712.6 238.7L714.8 243"/></g>
<!-- 17b -->
<g><path d="M833.7 226.8L833 233.3L835.8 236.2L835.1 243.4L831.5 244.8L831.5 249.2L834.4 249.9L838.7 246.3L882.9 226M835.8 228.9L836.6 234.7L839.5 236.2L838.7 244.8M839.5 236.2L849.6 231.1"/><path class="f" d="M846.3 237.9C846.3 239 845.5 239.9 844.5 239.9C843.6 239.9 842.8 239 842.8 237.9C842.8 236.8 843.6 235.9 844.5 235.9C845.5 235.9 846.3 236.8 846.3 237.9Z"/><path class="f" d="M858.9 230.7C858.9 231.8 858.1 232.7 857.1 232.7C856.2 232.7 855.4 231.8 855.4 230.7C855.4 229.6 856.2 228.6 857.1 228.6C858.1 228.6 858.9 229.6 858.9 230.7Z"/><path d="M834.1 247.5C834.1 248.2 833.6 248.9 833 248.9C832.3 248.9 831.8 248.2 831.8 247.5C831.8 246.7 832.3 246 833 246C833.6 246 834.1 246.7 834.1 247.5Z"/></g>
<!-- 18 -->
<g><path d="M843.1 189.8L911.8 157.2L916.1 158L916.9 168.1L913.2 171.7L912.5 176.8L906 178.2L893 181.1L880 186.2L865.5 194.8L851 203.5L842.4 204.2L839.5 201.4L840.2 198.5L843.1 197Z"/><path class="b" d="M843.1 190.1L911.8 157.5"/><path d="M843.8 192.2L912.5 159.8L916.1 160.1M846 195.1L913.2 163.3M846.7 198L903.1 171.7M843.1 197L846.7 199.2L846.7 203.8M853.6 196.3C853.6 197.1 853.1 197.7 852.5 197.7C851.8 197.7 851.3 197.1 851.3 196.3C851.3 195.5 851.8 194.8 852.5 194.8C853.1 194.8 853.6 195.5 853.6 196.3ZM859.4 193.4C859.4 194.2 858.9 194.8 858.3 194.8C857.6 194.8 857.1 194.2 857.1 193.4C857.1 192.6 857.6 192 858.3 192C858.9 192 859.4 192.6 859.4 193.4ZM894.2 176.8C894.2 177.6 893.6 178.2 893 178.2C892.4 178.2 891.8 177.6 891.8 176.8C891.8 176 892.4 175.3 893 175.3C893.6 175.3 894.2 176 894.2 176.8ZM903.1 176C903.1 176.8 902.5 177.5 901.7 177.5C900.9 177.5 900.2 176.8 900.2 176C900.2 175.2 900.9 174.6 901.7 174.6C902.5 174.6 903.1 175.2 903.1 176Z"/><path class="f" d="M903.8 171.7L913.2 168.8L912.5 173.1L909.6 176.8L908.2 173.9L904.6 175.3Z"/><path d="M833.7 226.7L930.6 180.4L934.9 181.1L935.7 186.2L939.3 188.3L940 185.4L945.1 186.2L947.2 189.1L948 220.9L945.1 223.8L940.7 223.1L929.2 226.7L919 228.1L913.2 225.9L906 222L893 221.8L882.9 225.9"/><path class="b" d="M833.7 226.7L930.6 180.4"/><path d="M835.1 229.1L932.1 182.7M840.9 230L934.9 186.2M849.6 230L935.7 189.1L939.3 188.3M914.7 200.9L940.7 192.2M940 185.4L940.7 222.3M942.9 186.9L943.9 222.6M896.6 210.8L914.7 201.4L917.6 203.5L900.2 214.4L896.9 213.7ZM898.1 211.9L915.4 202.8M893.6 215.4C893.6 216.5 892.8 217.4 891.8 217.4C890.9 217.4 890.1 216.5 890.1 215.4C890.1 214.3 890.9 213.4 891.8 213.4C892.8 213.4 893.6 214.3 893.6 215.4ZM919.6 214.6C918.9 216.5 917.1 217.6 915.6 217.1C914.1 216.5 913.5 214.5 914.1 212.7C914.8 210.8 916.6 209.7 918.1 210.3C919.6 210.8 920.3 212.8 919.6 214.6ZM933.6 211.1C932.9 213.1 930.9 214.3 929.3 213.7C927.6 213.1 926.9 211 927.6 209C928.3 206.9 930.3 205.8 931.9 206.4C933.6 207 934.3 209.1 933.6 211.1Z"/><path class="f" d="M918.1 214.1C917.7 215.1 916.9 215.7 916.2 215.4C915.5 215.2 915.3 214.2 915.6 213.2C916 212.2 916.8 211.6 917.5 211.9C918.2 212.1 918.4 213.1 918.1 214.1Z"/><path class="f" d="M932 210.5C931.6 211.6 930.7 212.2 929.9 211.9C929.2 211.7 928.9 210.6 929.2 209.5C929.6 208.5 930.5 207.9 931.3 208.1C932.1 208.4 932.3 209.5 932 210.5Z"/><path d="M926.3 219.4L939.3 215.1L940.7 218L929.2 223.1L925.8 221.9ZM928 220.3L939 216.5"/><path class="f" d="M922.9 224.5C922.9 224.9 922.6 225.2 922.2 225.2C921.8 225.2 921.5 224.9 921.5 224.5C921.5 224.1 921.8 223.8 922.2 223.8C922.6 223.8 922.9 224.1 922.9 224.5Z"/></g>
<!-- 20a -->
<g><path d="M479.9 230L482.3 226.4L492.9 228.8L514 220.6L532.8 210L535.2 202.9L537.5 198.2L543.4 194.7L548.1 195.9M479.9 230L481.6 232.3L492.9 232.3L515.2 224.1L532.4 214.7"/><path class="b" d="M512.9 219.4L532.4 209.3"/><path d="M535.2 202.9L534.7 219.4L532.4 220.6L537.5 226.4L548.1 222.9L548.8 195.9M541.1 197.1L540.4 224.8M542.7 199.4L544.6 198.9L544.1 204.6L542.2 205.3Z"/><path class="f" d="M541.8 210.7L546.9 210L546.9 214.7L541.8 215.4Z"/><path d="M542.2 217L542.2 221.7M544.1 216.6L544.1 221.3M546 216.3L546 220.8M550.5 199.4L551.2 187.2L555.9 184.1L559.2 187.2L557.8 191.9L561.5 193.3M553.5 190.5L554 187.6L556.6 186.9M550.5 200.6L561 194.7L572.8 193.5L597.5 206.5L596.3 217L637.5 260.5L635.1 263.3M551.6 204.1L562.2 198.2L572.8 197.1L594 208.3L592.8 219.4L632.7 262.9M635.1 263.3L615.1 265.2L603.4 257L598.7 252.3L589.3 255.8L582.2 252.3L584.6 247.6L575.2 248.8L556.3 249.9L546.9 245.2L532.8 245.2L516.4 253.5L507 265.2L499.9 284L492.9 294.6L483.5 302.8L467 306.4L461.1 300.5L448.2 300.5L438.8 304L432.9 300.5L434.1 295.8L442.3 292.3M428.2 259.3L479.9 231.1M428.2 259.3L430.6 264.1L444.7 271.1L448.2 268.8L450.6 274.6L449.4 300.5M444.7 271.1L443.5 293.4M448.2 268.8L474.1 258.2L514 237L530.5 225.3L535.2 222.9M549.3 213.5L570.5 210.7L592.8 210M494.1 262.9L505.8 248.8L508.9 252.3L496.4 268.8ZM463.5 305.2L464.2 295.8L470.5 291.1L479.9 292.3L481.6 301.7M469.4 292.3L469.4 305.2M475.2 291.6L475.2 304M458.8 277.5C458.8 278.1 458.3 278.6 457.6 278.6C457 278.6 456.4 278.1 456.4 277.5C456.4 276.8 457 276.3 457.6 276.3C458.3 276.3 458.8 276.8 458.8 277.5ZM464.7 278.9C464.7 279.5 464.1 280 463.5 280C462.8 280 462.3 279.5 462.3 278.9C462.3 278.2 462.8 277.7 463.5 277.7C464.1 277.7 464.7 278.2 464.7 278.9ZM466.3 284C466.3 284.7 465.8 285.2 465.1 285.2C464.5 285.2 464 284.7 464 284C464 283.4 464.5 282.9 465.1 282.9C465.8 282.9 466.3 283.4 466.3 284ZM474.8 281.2C474.8 281.9 474.3 282.4 473.6 282.4C472.9 282.4 472.4 281.9 472.4 281.2C472.4 280.6 472.9 280 473.6 280C474.3 280 474.8 280.6 474.8 281.2ZM478.3 270.6C478.3 271.3 477.8 271.8 477.1 271.8C476.5 271.8 475.9 271.3 475.9 270.6C475.9 270 476.5 269.5 477.1 269.5C477.8 269.5 478.3 270 478.3 270.6ZM492.9 270.4C492.9 271.1 492.4 271.6 491.7 271.6C491 271.6 490.5 271.1 490.5 270.4C490.5 269.7 491 269.2 491.7 269.2C492.4 269.2 492.9 269.7 492.9 270.4ZM484.6 244.5C484.6 245.2 484.1 245.7 483.5 245.7C482.8 245.7 482.3 245.2 482.3 244.5C482.3 243.9 482.8 243.4 483.5 243.4C484.1 243.4 484.6 243.9 484.6 244.5ZM475.2 253.5C475.2 254.1 474.7 254.6 474.1 254.6C473.4 254.6 472.9 254.1 472.9 253.5C472.9 252.8 473.4 252.3 474.1 252.3C474.7 252.3 475.2 252.8 475.2 253.5ZM560.3 207.6C560.3 208.3 559.8 208.8 559.2 208.8C558.5 208.8 558 208.3 558 207.6C558 207 558.5 206.5 559.2 206.5C559.8 206.5 560.3 207 560.3 207.6Z"/><path class="f" d="M456 295.1C456 295.7 455.7 296.3 455.3 296.3C454.9 296.3 454.6 295.7 454.6 295.1C454.6 294.4 454.9 293.9 455.3 293.9C455.7 293.9 456 294.4 456 295.1Z"/><path class="f" d="M447.7 282.9C447.7 283.5 447.4 284 447 284C446.6 284 446.3 283.5 446.3 282.9C446.3 282.2 446.6 281.7 447 281.7C447.4 281.7 447.7 282.2 447.7 282.9Z"/><path d="M442.3 292.3L443.5 294.6L437.6 298.1L438.8 304M582.2 252.3L589.3 258.6L598.7 252.3M584.6 247.6L595.1 251.6L603.4 257M589.3 258.6L603.4 260.5L615.1 265.2M570.9 221.7L575.6 221M570.9 221.7L570.5 229.5L575.2 228.8M574.4 225.3C574.4 225.8 574 226.2 573.5 226.2C573 226.2 572.6 225.8 572.6 225.3C572.6 224.7 573 224.3 573.5 224.3C574 224.3 574.4 224.7 574.4 225.3ZM542.2 228.8L554.5 227.6L551.2 233.5L542.7 238.2M574.2 240.1C574.2 242.5 571.7 244.5 568.6 244.5C565.4 244.5 562.9 242.5 562.9 240.1C562.9 237.6 565.4 235.6 568.6 235.6C571.7 235.6 574.2 237.6 574.2 240.1ZM572.1 240.5C572.1 242 570.5 243.1 568.6 243.1C566.6 243.1 565 242 565 240.5C565 239.1 566.6 238 568.6 238C570.5 238 572.1 239.1 572.1 240.5ZM566.9 238.9L566.2 242.2M568.6 239.4L570.5 239.4L570.5 241.7L568.6 241.7Z"/></g>
<!-- 21 -->
<g><path class="h" d="M608.8 284.3L616.9 280.5L621.2 281L623.4 277.8L627.7 278.3L631 283.2L634.2 289.7L639.7 294.6L646.2 292.4L649.4 294.1L650.5 297.9L658.1 299.5L659.7 301.7L655.9 305.5L647.3 308.7L632.1 309.8L627.7 307.1L620.1 303.8L616.9 304.9L611.5 304.4L606 302.2L603.3 297.9L605 290.8Z"/><path d="M612.5 286.5L614.7 289.7L638.6 298.9L649.4 295.7M612.5 286.5L607.1 298.4L611.5 301.7M614.7 289.7L610.4 299.5L621.2 301.7L631 305.5L647.3 302.7L655.9 301.7M616.9 283.2L620.1 284.3L618.5 286.5M619.6 297.6C619.6 298.5 618.6 299.2 617.4 299.2C616.2 299.2 615.3 298.5 615.3 297.6C615.3 296.8 616.2 296.1 617.4 296.1C618.6 296.1 619.6 296.8 619.6 297.6ZM635.3 306L647.3 305.5L648.4 307.6L635.3 308.2ZM653.2 302.7C653.2 303.2 652.7 303.6 652.2 303.6C651.6 303.6 651.1 303.2 651.1 302.7C651.1 302.3 651.6 301.9 652.2 301.9C652.7 301.9 653.2 302.3 653.2 302.7ZM605 298.4L610.4 302.7L616.9 303.3"/></g>
<!-- 22a -->
<g><path d="M365.8 238.4L370.9 233.3L389.7 225.4L392.6 226.1L397 223.2L402.7 218.9L412.9 212.4L417.2 206.6L419.4 202.2L427.3 204.4L436 203L444 200.8L445.4 203.7L443.2 206.6L442.5 222.5L436 226.8L427.3 231.9L421.5 238.4L417.2 248.5L412.9 255.8L415 258.7L414.6 264.4M365.8 238.4L366.3 275M369.2 239.1L369.8 275M370.9 233.3L372.4 238L369.2 239.1L365.8 238.4M372.4 238L389.7 229.7L398.4 226.1L414.3 216.7L419.4 209.5L421.5 208L430.2 209.5L443.2 206.6M419.4 202.2L418.7 205.8L421.5 208M406.4 223.9L407.1 238.4L410 252.9L410.7 264.4M421.5 209.5L423 223.9L422.3 237M391.2 234.8L394.1 233.3L397 234.8L397.7 247.1L394.8 250L391.9 248.5ZM392.9 236.2L394.3 235.2L395.5 236.2L395.9 246.4L394.5 247.8L393.2 246.8ZM403.5 238.4C403.5 239.2 402.8 239.8 402 239.8C401.2 239.8 400.6 239.2 400.6 238.4C400.6 237.6 401.2 237 402 237C402.8 237 403.5 237.6 403.5 238.4ZM425.9 216.7L433.8 213.8L434.6 221.8L426.6 226.1ZM428.1 218.1L431.7 216.7L431.7 222.5L428.3 223.9ZM391.9 275L391.9 263L394.8 255.8L399.8 252.1L407.1 250.7M397 258.7L405.6 255.8L406.4 264.4L397.7 270.2ZM410 257.2L414.3 255.8M414 261.5C414 262.2 413.5 262.7 412.9 262.7C412.2 262.7 411.7 262.2 411.7 261.5C411.7 260.9 412.2 260.4 412.9 260.4C413.5 260.4 414 260.9 414 261.5Z"/></g>
<!-- 22b -->
<g><path d="M366.3 274.1L373.8 277.2L383.9 275.9L391.9 277L398.4 272.9L410 267.5L414.6 264.7L414.6 263.2M391.9 276.2L391.9 275.1M410.7 264.7L410.7 267.5"/></g>
<!-- 24 -->
<g><path class="h" d="M500.4 200.6C500.4 204.3 498.1 207.4 495.2 207.4C492.4 207.4 490.1 204.3 490.1 200.6C490.1 196.8 492.4 193.7 495.2 193.7C498.1 193.7 500.4 196.8 500.4 200.6Z"/><path d="M496.6 201.3C496.6 202.4 495.8 203.4 494.8 203.4C493.7 203.4 492.9 202.4 492.9 201.3C492.9 200.1 493.7 199.2 494.8 199.2C495.8 199.2 496.6 200.1 496.6 201.3Z"/><path class="h" d="M488.6 205.3C488.6 208.6 486.5 211.4 483.9 211.4C481.4 211.4 479.2 208.6 479.2 205.3C479.2 201.9 481.4 199.2 483.9 199.2C486.5 199.2 488.6 201.9 488.6 205.3Z"/><path d="M482.3 206.7C482.3 208 481.4 209 480.2 209C479 209 478.1 208 478.1 206.7C478.1 205.4 479 204.3 480.2 204.3C481.4 204.3 482.3 205.4 482.3 206.7Z"/><path class="h" d="M479.9 191.2L484.6 188.8L489.3 193.5L493.3 194.2"/><path d="M479.9 191.2L483 194.7L487 198.7"/><path class="h" d="M465.8 197L470.5 195.4L477.6 197.7M465.8 197L465.1 200.1L469.4 201.3L475.2 202L474.1 208.8L472.9 213.7L478.8 217L487 213.7M462.3 212.3L467 210L473.1 209.5M462.3 212.3L461.8 215.1L465.8 216.3L470.8 213.7"/><path d="M477.6 197.7L478.8 202.9M488.6 197.7L490.1 207.6"/></g>
<!-- 25a -->
<g><path d="M725.2 393.5L731.7 392.5L748 388.1L758.8 382.7L766.4 381.6L779.4 375.1L784.9 372.9M725.2 393.5L726.3 405.5L725.6 422.8L728.4 430M731.7 392.5L732.8 396.8L731.7 430M732.8 396.8L750.1 400.7L778.4 389.6L785.9 382L795.7 370.1L805.5 362.5M735 394.2L750.1 397.2L775.1 387.7M758.8 382.7L775.1 387.7M805.5 383.8L794.6 394.6L788.1 407.6L783.8 418.5L775.1 430M808.7 385.9L796.8 396.8L791.4 409.8L789.2 422.8L785.9 430M779.4 414.2L788.1 418.5M774.2 399.6C774.2 400.6 773.6 401.4 772.9 401.4C772.2 401.4 771.6 400.6 771.6 399.6C771.6 398.7 772.2 397.9 772.9 397.9C773.6 397.9 774.2 398.7 774.2 399.6ZM750.1 430L751.2 418.5L755.6 414.2L761 415.2L763.2 422.8L763.2 430M755.6 415.2L755.6 430M759.5 415.2L759.5 430"/></g>
<!-- 25b_27 -->
<g><path d="M725.6 422.5L731.7 431.2L733.9 436.7L742.5 435.6L744.7 439.9L750.1 436.7L762.1 435.6L766.4 438.8L785.9 436.7L787 429.1L783.8 416M731.7 424.7L733.9 431.2M733.9 430.1L750.1 428L755.6 431.2L775.1 426.9L783.8 416L788.1 403L795.7 390M775.1 426.9L781.6 413.9L785.9 400.8L790.7 390M779.4 422.5L785.9 424.7M751.2 430.1L751.2 428M763.2 430.1L763.2 428M803.3 429.1L809.8 424.7L831.5 417.1L848.9 409.5L855.4 404.1L857.6 395.4L871.7 392.2L873.8 398.7L872.7 420.4L861.9 428L848.9 436.7L848.9 452.9L840.2 462.7L822.8 464.9L814.2 467L806.6 472.5L803.3 470.3ZM807.6 430.1L808.7 468.6M812 428.6L813.1 467M809.8 428L831.5 420.4L848.9 412.8L858.6 407.4L859.7 398.7L871.7 395.4M848.9 412.8L848.9 436.7M859.7 407.4L872.7 403M854.3 411.7L861.9 409.5L863 416L855.4 418.2ZM860.6 413.4C860.6 414.2 860 414.7 859.3 414.7C858.6 414.7 858 414.2 858 413.4C858 412.7 858.6 412.1 859.3 412.1C860 412.1 860.6 412.7 860.6 413.4ZM851 422.5L861.9 418.2M851 431.2L857.6 424.7M827.2 428L830.4 425.8L832.6 428L831.5 439.9L828.9 442.1L826.7 439.5ZM828.9 429.1L830.2 428.2L830.7 438.8L829.1 439.9ZM843 433C843 435.4 841.3 437.3 839.1 437.3C837 437.3 835.2 435.4 835.2 433C835.2 430.6 837 428.6 839.1 428.6C841.3 428.6 843 430.6 843 433ZM840.8 433C840.8 434.1 840.1 434.9 839.1 434.9C838.2 434.9 837.4 434.1 837.4 433C837.4 431.9 838.2 431 839.1 431C840.1 431 840.8 431.9 840.8 433ZM833.7 422.5L834.8 419.3L839.1 419.3L840.2 423.6M819.4 438.8C819.4 439.8 818.7 440.6 817.8 440.6C817 440.6 816.3 439.8 816.3 438.8C816.3 437.9 817 437.1 817.8 437.1C818.7 437.1 819.4 437.9 819.4 438.8ZM815 451.8C815 452.8 814.4 453.6 813.7 453.6C813 453.6 812.4 452.8 812.4 451.8C812.4 450.9 813 450.1 813.7 450.1C814.4 450.1 815 450.9 815 451.8ZM820.7 455.1L827.2 449.7L840.2 445.3L847.8 444.2L846.7 450.8L840.2 457.3L822.8 461.6L819.6 459.4ZM831.5 448.6L832.6 458.4M827.2 449.7L828.3 455.1L820.7 457.3"/><path class="t" d="M780.5 459.9L803.3 459.9"/></g>
<!-- 25c -->
<g><path d="M877 337.1L878.3 338.7L878.3 347.4L883.4 351L897.9 357.5L912.3 359.7L929.7 364.7L944.2 372L949.9 376.3L951.4 392.2L949.9 398L947.1 405.9L943.4 406.7L941.3 403.8L926.8 393.7L909.4 389.3L897.9 387.1L893.5 380.6L887.7 376.3L880.5 376.3L876.2 372L878.3 364.7M879.1 350.3L896.4 358.9L912.3 362.5L928.2 366.9L942.7 373.4L947.1 377.7M878.3 364.7L882 362.5L893.5 362.5L894.2 366.2L892.1 377.7M880.5 376.3L883.4 372L882 367.6L878.3 364.7M888.5 364.7L889.9 372.7L892.8 364M898.6 366.9L926.8 374.1L926.8 376.3L898.6 369.1ZM897.9 374.6L926.8 382.1L926.8 384.2L897.9 376.7ZM897.9 382.4L926.8 390L926.8 392.2L897.9 384.5ZM933.7 384.2C933.7 388.2 933.2 391.5 932.6 391.5C931.9 391.5 931.4 388.2 931.4 384.2C931.4 380.3 931.9 377 932.6 377C933.2 377 933.7 380.3 933.7 384.2ZM940.3 385.7C940.3 389.7 939.7 392.9 939.1 392.9C938.5 392.9 937.9 389.7 937.9 385.7C937.9 381.7 938.5 378.5 939.1 378.5C939.7 378.5 940.3 381.7 940.3 385.7ZM943.4 379.2L944.2 402.3M947.1 379.9L947.8 385L949.9 385.7M944.2 390.8L949.9 392.2M944.2 398L947.8 398.7M878.3 347.4L871.8 361.1M894.2 366.2L897.9 366.2"/></g>
<!-- 25d -->
<g><path d="M794.6 367.7L801.1 356.2L812 344.6L822.1 338.8L835.1 333.7L845.2 328.7L848.8 322.9L851.7 322.2L859.7 327.2L864 329.4L869.8 334.5L877.1 335.2L878.5 337.4L877.8 348.9L881.4 351.1M788.8 376.4L798.9 363.4L803.3 354.7L813.4 346.8L823.5 341.4L836.5 336.2L846.7 332.3L856.8 330.8M784.5 382.2L796 369.2L804.7 357.6L814.8 348.9L825 343.9L838 338.5L848.1 334.5L858.2 333.7M780.1 386.5L793.1 374.2L806.2 360.5L816.3 351.1L826.4 346L839.4 341L850.3 339.5M821.4 338.8L819.9 327.2L822.8 325.1L833.7 321.4L836.5 322.9L837.3 331.6M825.7 334.5L825 329.4L832.2 327.2L833.7 333M827.9 330.1L828.6 334.5M848.8 322.9L846.7 327.2L851 330.8L858.2 333L862.6 330.1L864 329.4M851 330.8L850.3 340.3L853.9 344.6L864 346.8L865.5 341.7L864.8 334.5L869.8 334.5M853.9 344.6L856.8 341.7L864 340.3L864.8 334.5M869.8 334.5L871.3 338.8L870.5 353.3L878.5 360.5L877.8 363.4M858.2 333L858.2 341.7M806.9 363.4L810.5 366.3L812 386.5L817.7 385.8L835.1 379.3L842.3 375.7L851 376.4L858.2 372.1L862.6 369.2L874.2 365.6L877.8 363.4M809.1 364.8L809.8 385.1L812 386.5M810.5 366.3L811.2 362L819.2 359.1L839.4 351.1L841.6 349.7M809.1 360.5L820.6 351.8L832.2 347.5L837.3 346.8L835.1 351.8L827.9 356.2L817.7 359.8ZM819.2 362L819.9 370.6L813.4 372.8M819.9 370.6L839.4 364.8L842.3 359.1L840.9 354.7M854.6 352.5C854.6 354.5 851.7 356.2 848.1 356.2C844.5 356.2 841.6 354.5 841.6 352.5C841.6 350.6 844.5 348.9 848.1 348.9C851.7 348.9 854.6 350.6 854.6 352.5ZM851.7 351.5C851.7 352.4 850.4 353.1 848.8 353.1C847.3 353.1 845.9 352.4 845.9 351.5C845.9 350.7 847.3 349.9 848.8 349.9C850.4 349.9 851.7 350.7 851.7 351.5ZM841.6 354L842.3 359.1L848.1 361.2L854.6 357.6L855.4 354M842.3 359.1L839.4 366.3L845.2 368.5L848.1 361.2M854.6 357.6L864 354.7L871.3 356.2M855.4 363.4L864 362L874.2 365.6M845.2 368.5L855.4 363.4M864 346.8L864 354.7"/></g>
<!-- 26 -->
<g><path class="h" d="M909.8 439.8L911.9 437.7L923.9 437.7L934.7 431.7L938 433.3L939.1 438.2L945.6 437.7L947.7 439.3L946.7 442.5L951 444.2L967.3 444.7L974.9 444.7L975.9 447.4L975.4 452.9L972.2 453.9L969.4 451.8L958.6 458.8L956.4 460.5L954.2 455.6L951 453.4L946.7 455.6L941.2 459.4L930.4 461L926 458.8L922.8 453.4L915.2 447.4L910.8 443.6Z"/><path d="M914.1 440.9L925 440.9L936.3 434.4M914.1 440.9L915.2 443.6L925 443.1L936.9 437.1M927.1 443.6L932.5 444.7L938 442.5L945.6 439.8M938 445.8L954.2 453.4L967.3 447.4L974.9 446.9M936.9 448L951 453.4M932.5 451.2L930.4 453.4L942.3 455.6L945.6 454.5M927.1 455.6L932.5 458.3L941.2 457.7M961.3 451.8C961.3 452.2 960.8 452.6 960.2 452.6C959.6 452.6 959.1 452.2 959.1 451.8C959.1 451.3 959.6 450.9 960.2 450.9C960.8 450.9 961.3 451.3 961.3 451.8ZM969.4 448L969.4 451.8"/></g>
<!-- 28 -->
<g><path d="M762.5 338.4L764.6 336.3L773.3 338.4L773.3 331.9L776.6 329.8L787.4 334.6L789.1 337.4L788.5 341.7L786.9 342.2L786.9 346L793.4 347.1L795.6 349.3L795 353.6L783.6 368.8L781.5 369.9L775 367.7L773.3 365.6L766.3 363.4L761.9 365L760.3 362.3L760.8 356.9ZM773.3 338.4L775.5 337.4L776 334.1L779.3 335.2L780.9 337.9L784.7 337.4L785.8 340.1L787.4 334.6M776.6 329.8L775.5 332.5L782 335.2L787.4 334.6M775.5 337.4L782.5 340.1L785.8 340.1M762.5 338.4L765.2 341.2L775.5 343.3L782.5 340.1M765.2 341.2L764.1 361.2L761.9 365M775.5 343.3L778.2 352.5L780.4 362.3L781.5 369.9M764.1 361.2L773.3 365.6M766.3 343.3L765.7 360.1"/><path class="f" d="M770.4 346C770.4 346.9 769.9 347.6 769.3 347.6C768.7 347.6 768.2 346.9 768.2 346C768.2 345.2 768.7 344.5 769.3 344.5C769.9 344.5 770.4 345.2 770.4 346Z"/><path class="f" d="M770.1 352.5L776 353.6L776 358L770.6 357.4Z"/><path d="M788.4 350.2C788.6 350.9 787.6 351.7 786.1 352.1C784.7 352.5 783.4 352.3 783.2 351.6C783 351 784 350.2 785.5 349.8C786.9 349.4 788.3 349.6 788.4 350.2ZM785.1 359.1C784.2 360.3 783.2 361 782.7 360.7C782.2 360.3 782.5 359.1 783.3 357.9C784.1 356.7 785.2 356 785.7 356.4C786.2 356.7 785.9 358 785.1 359.1ZM786.9 346L780.4 348.2L778.2 352.5M763 351.5L763.9 355.8"/></g>
<!-- 32_23 -->
<g><path class="h" d="M654.5 371.7L658.8 368.8L665.3 371L666.8 376.8L663.9 381.8L658.1 381.1L654.5 376.8Z"/><path d="M658.8 368.8L659.5 381.1M662.4 370L662.9 381.8M654.5 374.3L659.5 374.9"/><path class="h" d="M666.8 375.3L674 378.2L675.4 381.1L672.5 382.5L665.3 379.7"/><path d="M668.9 376.3L668.2 380.7M671.5 377.5L670.7 381.8M683.4 378.9L687.7 374.6L692.1 375.3L695.7 381.1L700 384L699.3 399.2L697.1 407.1L691.4 412.2L687.7 412.9L682 410.8L681.2 400.6L682.7 387.6ZM685.6 381.1L684.1 389.1L683.4 409.6M691.6 381.1C691.6 382.1 690.9 382.8 689.9 382.8C689 382.8 688.2 382.1 688.2 381.1C688.2 380.1 689 379.4 689.9 379.4C690.9 379.4 691.6 380.1 691.6 381.1ZM696.4 388.8C696.4 389.7 695.8 390.5 695 390.5C694.2 390.5 693.5 389.7 693.5 388.8C693.5 387.8 694.2 387 695 387C695.8 387 696.4 387.8 696.4 388.8ZM689.9 392.7C689.9 393.7 689.3 394.6 688.5 394.6C687.7 394.6 687 393.7 687 392.7C687 391.6 687.7 390.8 688.5 390.8C689.3 390.8 689.9 391.6 689.9 392.7Z"/><path class="f" d="M689.9 386.2C689.9 386.6 689.6 386.9 689.2 386.9C688.8 386.9 688.5 386.6 688.5 386.2C688.5 385.8 688.8 385.4 689.2 385.4C689.6 385.4 689.9 385.8 689.9 386.2Z"/><path class="f" d="M693.5 384.7C693.5 385.1 693.2 385.4 692.8 385.4C692.4 385.4 692.1 385.1 692.1 384.7C692.1 384.3 692.4 384 692.8 384C693.2 384 693.5 384.3 693.5 384.7Z"/><path d="M693.6 405C692.3 407.2 690.7 408.7 690.1 408.3C689.4 407.9 689.8 405.7 691.1 403.5C692.4 401.3 694 399.8 694.7 400.2C695.4 400.6 694.9 402.8 693.6 405Z"/></g>
<!-- 99_arrow -->
<g><path class="f" d="M67.9 503.2L72.8 489.1L75.5 491.8L96.7 481.5L103.2 493.4L83.6 504.8L84.7 508.6Z"/></g>
<g>
<text x="293.2" y="109.5">14</text>
<text x="468.9" y="141.8">9</text>
<text x="573.6" y="22.8">10</text>
<text x="649.1" y="35.1">11</text>
<text x="115.2" y="278.8">5</text>
<text x="310.9" y="216.1">20</text>
<text x="732.2" y="146.7">19</text>
<text x="685.8" y="185.9">16</text>
<text x="639.8" y="280.2">21</text>
<text x="789.9" y="290.1">15</text>
<text x="652.3" y="352.1">32</text>
<text x="681.6" y="356.2">23</text>
<text x="724.5" y="362.9">28</text>
<text x="997.7" y="189.2">18</text>
<text x="955.6" y="210.7">17</text>
<text x="906.1" y="296.1">25</text>
<text x="954.5" y="418.1">26</text>
<text x="168.4" y="342.8">1</text>
<text x="257.2" y="321.2">30</text>
<text x="294.7" y="356.2">8</text>
<text x="265.2" y="373.6">3</text>
<text x="306.4" y="390.8">7</text>
<text x="542.5" y="374.5">12</text>
<text x="412.4" y="434.0">2</text>
<text x="527.4" y="475.5">4</text>
<text x="389.1" y="201.1">22</text>
<text x="510.2" y="201.8">24</text>
<text x="444.1" y="323.3">29</text>
<text x="443.2" y="336.6">31</text>
<text x="528.5" y="348.7">13</text>
<text x="430.9" y="363.0">6</text>
<text x="760.0" y="465.1">27</text>
<text class="fr" transform="translate(104.8,492.8) rotate(-28.8)">FR.</text>
<text class="m" x="849.5" y="521.3" textLength="97.5" lengthAdjust="spacingAndGlyphs">SH23 B4800C</text>
</g>

</svg>
</body></html>
